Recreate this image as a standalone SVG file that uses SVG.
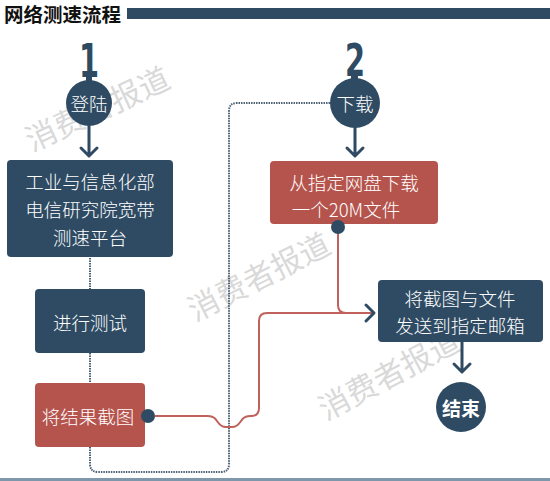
<svg xmlns="http://www.w3.org/2000/svg" width="550" height="481" viewBox="0 0 550 481">
<defs>
<style>
.box-blue{fill:#2e4b63}
.box-red{fill:#b5544d}
.t{font-family:"Noto Sans CJK SC","Noto Sans",sans-serif;font-weight:300;fill:#ffffff;font-size:18.5px;text-anchor:middle;dominant-baseline:central}
.num{font-family:"DejaVu Sans Condensed","DejaVu Sans",sans-serif;font-weight:bold;fill:#2e4b63;font-size:40px;text-anchor:middle}
.wm{font-family:"Noto Sans CJK SC",serif;fill:#b8b8b8;fill-opacity:0.55;font-size:31px}
.arrow{stroke:#2e4b63;stroke-width:3;fill:none;stroke-linecap:round;stroke-linejoin:round}
.red{stroke:#c0625b;stroke-width:2;fill:none}
.dot{stroke:#4b6073;stroke-width:2;stroke-dasharray:1.5 1;fill:none}
</style>
</defs>
<rect width="550" height="481" fill="#ffffff"/>
<g id="title">
<text x="4" y="22" font-family="'Noto Sans CJK SC',sans-serif" font-weight="bold" font-size="19.5" fill="#111">网络测速流程</text>
<rect x="127" y="8" width="423" height="11" fill="#2e4b63"/>
</g>
<g id="watermarks">
<text class="wm" transform="translate(32,152) rotate(-25)">消费者报道</text>
<text class="wm" transform="translate(195,322) rotate(-27)">消费者报道</text>
<text class="wm" transform="translate(326,421) rotate(-28)">消费者报道</text>
</g>
<g id="connectors">
<path class="dot" d="M90,258 V289"/>
<path class="dot" d="M90,353 V383"/>
<path class="dot" d="M90,447 V464 Q90,472 98,472 H221 Q229,472 229,464 V111 Q229,103 237,103 H332"/>
<path class="red" d="M155,416 H208 C219,416 216,427 226,427 H232 C242,427 239,416 250,416 H251 Q259,416 259,408 V321 Q259,313 267,313 H372"/>
<path class="red" d="M338,227 V305 Q338,313 346,313 H372"/>
<path class="arrow" d="M89,126 V156 M81,148 L89,156 L97,148"/>
<path class="arrow" d="M355,128 V156 M347,148 L355,156 L363,148"/>
<path class="arrow" d="M366,305 L374,313 L366,321"/>
<path class="arrow" d="M462,342 V372 M454,364 L462,372 L470,364"/>
</g>
<g id="step1">
<text class="num" transform="translate(89,77) scale(0.8,1.15)">1</text>
<rect x="86" y="72" width="6" height="10" fill="#2e4b63"/>
<circle cx="89" cy="103" r="23" fill="#2e4b63"/>
<text class="t" x="89" y="103">登陆</text>
</g>
<g id="step2">
<text class="num" transform="translate(355,76) scale(0.8,1.1)">2</text>
<rect x="351" y="72" width="7" height="10" fill="#2e4b63"/>
<circle cx="355" cy="103" r="25" fill="#2e4b63"/>
<text class="t" x="355" y="103">下载</text>
</g>
<g id="node-platform">
<rect class="box-blue" x="7" y="160" width="166" height="97" rx="4"/>
<text class="t" x="90" y="181">工业与信息化部</text>
<text class="t" x="90" y="209">电信研究院宽带</text>
<text class="t" x="90" y="237">测速平台</text>
</g>
<g id="node-test">
<rect class="box-blue" x="35" y="289" width="110" height="64" rx="4"/>
<text class="t" x="90" y="322">进行测试</text>
</g>
<g id="node-screenshot">
<rect class="box-red" x="35" y="383" width="110" height="64" rx="4"/>
<text class="t" x="88" y="416">将结果截图</text>
<circle cx="148" cy="416" r="7" fill="#2e4b63"/>
</g>
<g id="node-download">
<rect class="box-red" x="270" y="161" width="168" height="63" rx="4"/>
<text class="t" x="354" y="182">从指定网盘下载</text>
<text class="t" x="346" y="209">一个20M文件</text>
<circle cx="338" cy="227" r="7" fill="#2e4b63"/>
</g>
<g id="node-send">
<rect class="box-blue" x="378" y="280" width="165" height="62" rx="4"/>
<text class="t" x="460" y="298">将截图与文件</text>
<text class="t" x="460" y="325">发送到指定邮箱</text>
</g>
<g id="node-end">
<circle cx="461" cy="407" r="25" fill="#2e4b63"/>
<text class="t" x="461" y="407" style="font-weight:bold;font-size:19px">结束</text>
</g>
<rect x="0" y="478" width="550" height="3" fill="#7f97ab"/>
</svg>
